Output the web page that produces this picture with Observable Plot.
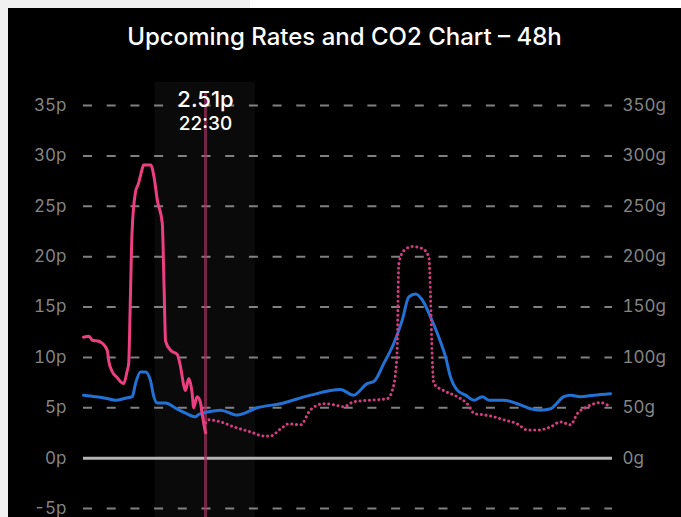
<!DOCTYPE html>
<html>
<head>
<meta charset="utf-8">
<script src="https://cdn.jsdelivr.net/npm/d3@7"></script>
<script src="https://cdn.jsdelivr.net/npm/@observablehq/plot@0.6"></script>
<style>
  html, body { margin: 0; padding: 0; background: #fff; width: 681px; height: 517px; overflow: hidden; }
  .strip { position: absolute; background: #f1f1f1; }
  #panel { position: absolute; left: 8px; top: 8px; width: 673px; height: 509px; background: #000; overflow: hidden; }
  #title { height: 52px; line-height: 58px; text-align: center; color: #fff; font-family: Inter, "Noto Sans", sans-serif; font-size: 24px; font-weight: 500; letter-spacing: 0px; }
  #chart svg { display: block; }
</style>
</head>
<body>
<div class="strip" style="left:0;top:0;width:8px;height:517px"></div>
<div class="strip" style="left:0;top:0;width:250px;height:8px"></div>
<div id="panel">
  <div id="title">Upcoming Rates and CO2 Chart – 48h</div>
  <div id="chart"></div>
</div>
<script>
// hours from the start of the 48h window
const pastHours = [0, 0.5, 0.8, 1.4, 1.7, 2.15, 2.3, 2.6, 3.05, 3.35, 3.65, 3.95, 4.1, 4.25, 4.4, 4.7, 5.0, 5.3, 5.45, 6.1, 6.4, 6.7, 7.15, 7.3, 7.45, 7.9, 8.5, 8.8, 9.1, 9.25, 9.55, 9.85, 10.0, 10.3, 10.6, 10.75, 11.07];
const pastRate  = [12.0, 12.1, 11.7, 11.6, 11.4, 10.7, 9.6, 8.6, 8.0, 7.6, 7.4, 8.6, 9.4, 15.7, 22.3, 26.3, 27.3, 28.6, 29.1, 29.1, 27.9, 25.6, 23.3, 17.4, 11.6, 10.7, 10.3, 9.1, 7.2, 6.7, 7.9, 6.5, 5.0, 6.1, 5.6, 4.5, 2.51];

const forecastHours = [11.07, 11.37, 12.43, 13.64, 15.15, 16.36, 16.97, 17.88, 18.63, 19.69, 20.6, 21.81, 22.71, 23.62, 24.53, 26.04, 27.56, 28.01, 28.31, 28.47, 28.61, 29.07, 29.83, 30.74, 31.33, 31.49, 31.64, 31.79, 32.69, 33.91, 34.81, 35.5, 36.32, 37.23, 38.14, 39.36, 40.26, 41.32, 42.38, 43.28, 44.19, 44.8, 45.7, 46.9, 47.82];
const forecastRate  = [3.5, 3.8, 3.6, 3.1, 2.6, 2.2, 2.2, 2.9, 3.4, 3.3, 4.8, 5.4, 5.3, 5.1, 5.6, 5.75, 5.9, 6.7, 8.4, 11, 19.3, 20.6, 21.0, 20.8, 20.0, 16, 10, 7.4, 6.7, 6.1, 5.4, 4.4, 4.3, 4.1, 3.8, 3.4, 2.8, 2.8, 3.1, 3.6, 3.3, 4.4, 5.1, 5.5, 5.1];

const co2Hours = [0, 1.09, 2.0, 2.9, 3.81, 4.42, 4.72, 5.17, 5.63, 6.08, 6.38, 6.69, 7.44, 8.35, 9.26, 10.16, 10.4, 11.34, 12.43, 13.95, 15.76, 17.88, 20.6, 23.32, 24.5, 25.74, 26.34, 27.25, 28.16, 28.92, 29.52, 30.13, 30.74, 31.49, 32.24, 32.85, 33.3, 33.91, 34.66, 35.42, 36.18, 36.78, 38.14, 39.36, 40.56, 41.47, 42.38, 43.58, 44.19, 45.1, 46.31, 47.82];
const co2Grams = [62.5, 61, 59.5, 57.5, 59.5, 61, 74, 85.6, 85.6, 77, 61, 54.6, 54.6, 49.6, 44.6, 41, 43, 46, 47.6, 42.7, 50, 54, 62.5, 68, 62.5, 74, 76, 94, 114, 137, 160, 163, 157, 140, 120, 100.5, 80.6, 67.5, 62.5, 57.5, 61, 57.5, 57.5, 54, 49, 47.6, 49, 61, 62.5, 61, 62.5, 64];

const rateTicks = [-5, 0, 5, 10, 15, 20, 25, 30, 35];
const co2Ticks = [0, 50, 100, 150, 200, 250, 300, 350];
const gramsPerPenny = 10;

const nowHour = 11.07;
const nowRate = "2.51p";
const nowTime = "22:30";
const highlight = [{x1: 6.5, x2: 15.6}];

const past = pastHours.map((t, i) => ({t, v: pastRate[i]}));
const forecast = forecastHours.map((t, i) => ({t, v: forecastRate[i]}));
const co2 = co2Hours.map((t, i) => ({t, v: co2Grams[i] / gramsPerPenny}));

const chart = Plot.plot({
  width: 673,
  height: 457,
  marginLeft: 75,
  marginRight: 69,
  marginTop: 45,
  marginBottom: 9,
  style: {background: "transparent", color: "#858585", fontSize: "17px", fontFamily: "Inter, 'Noto Sans', sans-serif"},
  x: {domain: [0, 48], axis: null},
  y: {domain: [-5, 35], axis: null},
  marks: [
    Plot.rect(highlight, {x1: "x1", x2: "x2", y1: -5.9, y2: 37.3, fill: "#ffffff", fillOpacity: 0.04}),
    Plot.ruleY(rateTicks.filter(d => d !== 0), {stroke: "#a0a0a0", strokeWidth: 2, strokeDasharray: "9,14.7", strokeOpacity: 0.8}),
    Plot.ruleY([0], {stroke: "#b4b4b4", strokeWidth: 3}),
    Plot.axisY(rateTicks, {anchor: "left", tickSize: 0, tickPadding: 17, tickFormat: d => `${d}p`, label: null, fill: "#858585", fontSize: 17}),
    Plot.axisY(co2Ticks.map(g => g / gramsPerPenny), {anchor: "right", tickSize: 0, tickPadding: 10, tickFormat: d => `${Math.round(d * gramsPerPenny)}g`, label: null, fill: "#858585", fontSize: 17}),
    Plot.ruleX([nowHour], {y1: -5.9, y2: 36.2, stroke: "#a1305e", strokeWidth: 3, strokeOpacity: 0.7}),
    Plot.line(co2, {x: "t", y: "v", stroke: "#2272d6", strokeWidth: 3, curve: "monotone-x"}),
    Plot.line(forecast, {x: "t", y: "v", stroke: "#d23c80", strokeWidth: 3, strokeDasharray: "0.1,4.6", strokeLinecap: "round", curve: "monotone-x"}),
    Plot.line(past, {x: "t", y: "v", stroke: "#ec3f80", strokeWidth: 3, curve: "monotone-x"}),
    Plot.text([nowRate], {x: nowHour, frameAnchor: "top", dy: -14, text: d => d, fill: "#ffffff", fontSize: 22, fontWeight: 500}),
    Plot.text([nowTime], {x: nowHour, frameAnchor: "top", dy: 11, text: d => d, fill: "#ffffff", fontSize: 19, fontWeight: 500})
  ]
});
document.getElementById("chart").appendChild(chart);
</script>
</body>
</html>
